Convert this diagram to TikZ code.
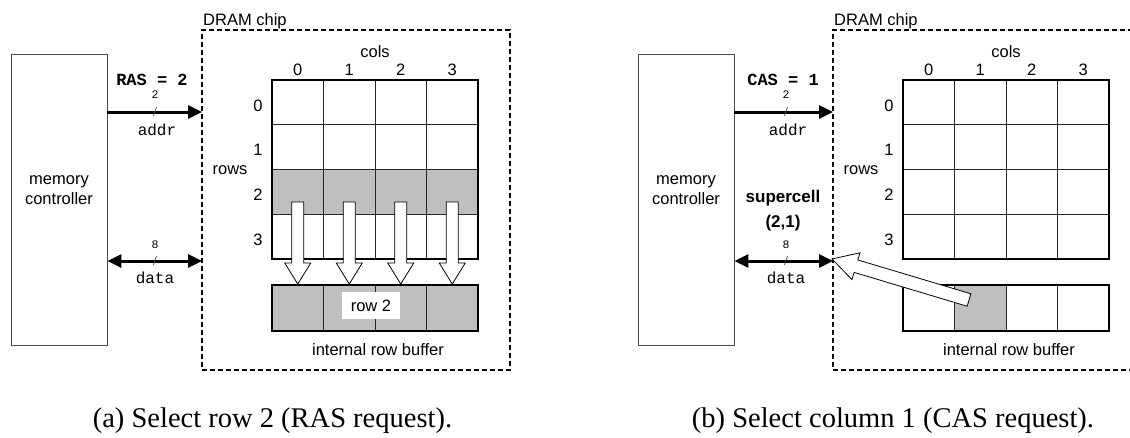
\documentclass[tikz,border=0pt]{standalone}
\usepackage{fontspec}
\setmainfont{Liberation Sans}
\setmonofont{Liberation Mono}
\newfontfamily\capfont{Liberation Serif}
\usetikzlibrary{arrows.meta}
\begin{document}
\begin{tikzpicture}[x=1pt,y=-1pt,
  txt/.style={font=\fontsize{16.5}{20}\selectfont, inner sep=0pt},
  boldtxt/.style={font=\fontsize{17}{25}\selectfont\bfseries, inner sep=0pt, align=center},
  mono/.style={font=\fontsize{16}{18}\selectfont\ttfamily, inner sep=0pt},
  monob/.style={font=\fontsize{17}{20}\selectfont\ttfamily\bfseries, inner sep=0pt},
  tinytxt/.style={font=\fontsize{11.5}{13}\selectfont\ttfamily, inner sep=0pt},
  captxt/.style={font=\fontsize{28.5}{32}\selectfont\capfont, inner sep=0pt, anchor=base},
  membox/.style={draw=black!70, line width=0.8pt, inner sep=0pt},
  chip/.style={draw, line width=1.3pt, dash pattern=on 5pt off 3pt, inner sep=0pt},
  bus/.style={line width=3pt, -{Triangle[length=14pt,width=13pt]}},
  bibus/.style={line width=3pt, {Triangle[length=14pt,width=13pt]}-{Triangle[length=14pt,width=13pt]}},
  slashmark/.style={line width=0.7pt, black!70},
  cellline/.style={black!85, line width=0.9pt},
  border/.style={draw, line width=2.6pt, inner sep=0pt},
  shade/.style={fill=black!25},
  hollow/.style={fill=white, draw, line width=0.8pt, line join=miter}
]
\useasboundingbox (0,0) rectangle (1130,437);
\clip (0,0) rectangle (1130,437);

% ================= Panel (a) =================
\node[membox, minimum width=96pt, minimum height=291pt] (mcA) at (59,199.5) {};
\node[txt, align=center] (mcAt) at (59,190) {memory\\controller};
\node[chip, minimum width=308pt, minimum height=340pt] (chipA) at (356,200) {};
\node[txt, anchor=base west] (chipAt) at (203,25) {DRAM chip};

% grid
\fill[shade] (272,169.5) rectangle (478,214.25);
\foreach \i in {1,2,3} \draw[cellline] (272+51.5*\i,80) -- (272+51.5*\i,259);
\foreach \j in {1,2,3} \draw[cellline] (272,80+44.75*\j) -- (478,80+44.75*\j);
\node[border, minimum width=206pt, minimum height=179pt] (gridA) at (375,169.5) {};
\node[txt] (colsA) at (375,52) {cols};
\foreach \i in {0,...,3} \node[txt] (cA\i) at (297.75+51.5*\i,70) {\i};
\node[txt] (rowsA) at (230,170) {rows};
\foreach \j in {0,...,3} \node[txt] (rA\j) at (258,105.5+44.75*\j) {\j};

% down arrows
\foreach \i in {0,...,3} {
  \pgfmathsetmacro\cx{297.75+51.5*\i}
  \draw[hollow] (\cx-6,202) -- (\cx+6,202) -- (\cx+6,263) -- (\cx+13,263) -- (\cx,284)
     -- (\cx-13,263) -- (\cx-6,263) -- cycle;
}

% buffer
\fill[shade] (272,285) rectangle (478,331);
\foreach \i in {1,2,3} \draw[cellline] (272+51.5*\i,285) -- (272+51.5*\i,331);
\node[border, minimum width=206pt, minimum height=46pt] (bufA) at (375,308) {};
\node[txt, fill=white, minimum width=58pt, minimum height=27pt] (row2) at (371,305.5) {row 2};
\node[txt] (bufAt) at (378,350) {internal row buffer};

% buses
\coordinate (addrA) at (202,112);
\draw[bus] (mcA.east |- addrA) -- (addrA);
\node[monob] (rasA) at (152,80) {RAS = 2};
\node[tinytxt] (wA) at (155,95) {2};
\draw[slashmark] (153.5,116) -- (156.5,107);
\node[mono] (addrAt) at (157,130) {addr};

\coordinate (dataA) at (202,261);
\draw[bibus] (mcA.east |- dataA) -- (dataA);
\node[tinytxt] (dwA) at (155,245) {8};
\draw[slashmark] (153.5,265) -- (156.5,256);
\node[mono] (dataAt) at (155,278) {data};

% ================= Panel (b) =================
\node[membox, minimum width=96pt, minimum height=291pt] (mcB) at (686,199.5) {};
\node[txt, align=center] (mcBt) at (686,190) {memory\\controller};
\node[chip, minimum width=308pt, minimum height=340pt] (chipB) at (987,200) {};
\node[txt, anchor=base west] (chipBt) at (834,25) {DRAM chip};

% grid
\foreach \i in {1,2,3} \draw[cellline] (903+51.5*\i,80) -- (903+51.5*\i,259);
\foreach \j in {1,2,3} \draw[cellline] (903,80+44.75*\j) -- (1109,80+44.75*\j);
\node[border, minimum width=206pt, minimum height=179pt] (gridB) at (1006,169.5) {};
\node[txt] (colsB) at (1006,52) {cols};
\foreach \i in {0,...,3} \node[txt] (cB\i) at (928.75+51.5*\i,70) {\i};
\node[txt] (rowsB) at (861,170) {rows};
\foreach \j in {0,...,3} \node[txt] (rB\j) at (889,105.5+44.75*\j) {\j};

% buffer
\fill[shade] (954.5,285) rectangle (1006,331);
\foreach \i in {1,2,3} \draw[cellline] (903+51.5*\i,285) -- (903+51.5*\i,331);
\node[border, minimum width=206pt, minimum height=46pt] (bufB) at (1006,308) {};
\node[txt] (bufBt) at (1009,350) {internal row buffer};

% buses
\coordinate (addrB) at (833,112);
\draw[bus] (mcB.east |- addrB) -- (addrB);
\node[monob] (casB) at (783,80) {CAS = 1};
\node[tinytxt] (wB) at (786,95) {2};
\draw[slashmark] (784.5,116) -- (787.5,107);
\node[mono] (addrBt) at (788,130) {addr};

\coordinate (dataB) at (833,261);
\draw[bibus] (mcB.east |- dataB) -- (dataB);
\node[tinytxt] (dwB) at (786,245) {8};
\draw[slashmark] (784.5,265) -- (787.5,256);
\node[mono] (dataBt) at (786,278) {data};
\node[boldtxt] (sc) at (783,210.5) {supercell\\(2,1)};

% big hollow arrow from buffer cell to data bus
\draw[hollow] (970.86,293.77) -- (857.81,259.94) -- (859.96,252.76) -- (832,259)
  -- (851.94,279.58) -- (854.09,272.40) -- (967.14,306.23) -- cycle;

% captions
\node[captxt] (capA) at (272.5,427) {(a) Select row 2 (RAS request).};
\node[captxt] (capB) at (893,427) {(b) Select column 1 (CAS request).};
\end{tikzpicture}
\end{document}
